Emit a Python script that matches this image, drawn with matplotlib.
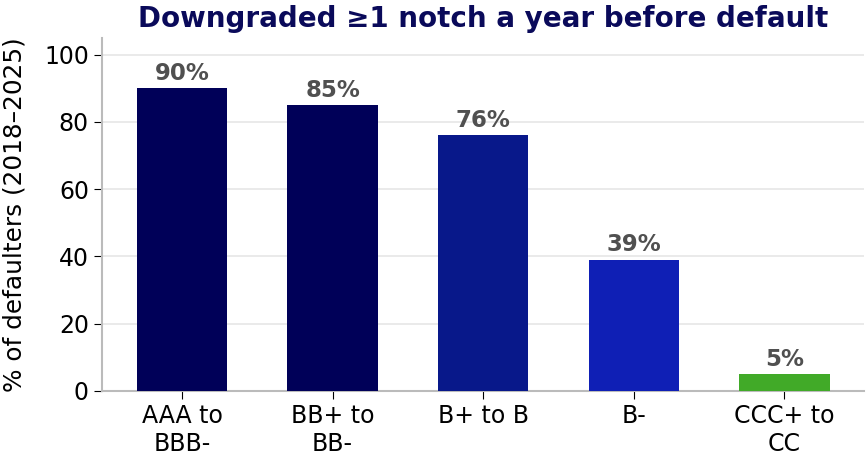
import matplotlib
matplotlib.use("Agg")
import matplotlib.pyplot as plt

categories = ["AAA to\nBBB-", "BB+ to\nBB-", "B+ to B", "B-", "CCC+ to\nCC"]
values = [90, 85, 76, 39, 5]
colors = ["#000058", "#000058", "#08188a", "#0f1fb5", "#41aa28"]

fig, ax = plt.subplots(figsize=(8.66, 4.57), dpi=100)
fig.subplots_adjust(left=0.118, right=0.998, top=0.917, bottom=0.145)

x = range(len(categories))
bars = ax.bar(x, values, width=0.6, color=colors, zorder=3)
for b, v in zip(bars, values):
    ax.text(b.get_x() + b.get_width() / 2, v + 1, f"{v}%", ha="center", va="bottom",
            fontsize=16.5, fontweight="bold", color="#505050")

ax.set_xticks(list(x))
ax.set_xticklabels(categories, fontsize=17)
ax.set_ylim(0, 105)
ax.set_yticks([0, 20, 40, 60, 80, 100])
ax.tick_params(axis="y", labelsize=17, length=6)
ax.tick_params(axis="x", length=6)
ax.yaxis.grid(True, color="#e6e6e6", linewidth=1.2, zorder=0)
ax.set_axisbelow(True)
for s in ["top", "right"]:
    ax.spines[s].set_visible(False)
for s in ["left", "bottom"]:
    ax.spines[s].set_color("#bbbbbb")
    ax.spines[s].set_linewidth(1.5)

ax.set_ylabel("% of defaulters (2018–2025)", fontsize=17.8, labelpad=13)
ax.set_title("Downgraded ≥1 notch a year before default", fontsize=20,
             fontweight="bold", color="#0a0a5a", pad=8)

fig.savefig("out.png", dpi=100)
